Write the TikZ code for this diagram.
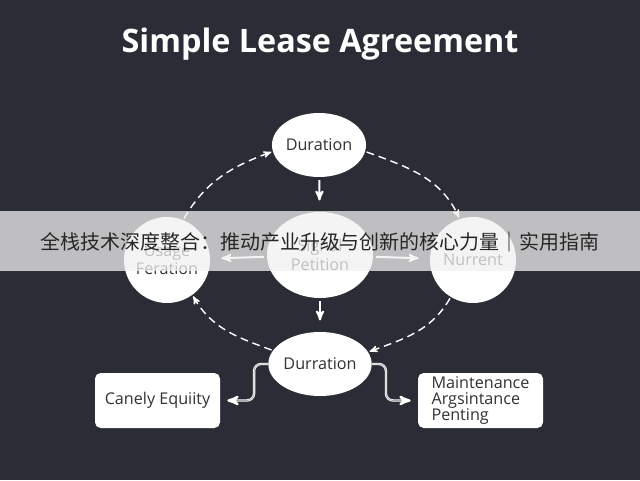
\documentclass[tikz,border=0pt]{standalone}
\usepackage{fontspec}
\setsansfont{Open Sans}
\newfontfamily\cjkfont{Noto Sans CJK SC}
\usepackage{tikz}
\usetikzlibrary{positioning,arrows,shapes.geometric}
\definecolor{bgdark}{RGB}{42,45,53}
\definecolor{inkdark}{RGB}{50,50,52}
\definecolor{bandgray}{RGB}{241,241,241}

\begin{document}
\begin{tikzpicture}[x=0.25mm,y=0.25mm,>=stealth',font=\sffamily,
	ovalnode/.style={ellipse,fill=white,inner sep=0pt,text=inkdark,font=\sffamily\fontsize{11.5}{13}\selectfont,align=center},
	roundnode/.style={circle,fill=white,inner sep=0pt,minimum size=21.5mm,text=inkdark,font=\sffamily\fontsize{11.5}{13}\selectfont,align=center},
	boxnode/.style={rectangle,rounded corners=4pt,fill=white,inner sep=0pt,minimum width=31.25mm,minimum height=13.75mm,text=inkdark,font=\sffamily\fontsize{11.5}{11.5}\selectfont},
	flowarrow/.style={->,draw=white,line width=1.4pt,shorten >=8pt,shorten <=2pt},
	dasharrow/.style={->,draw=white,line width=1pt,dash pattern=on 5.5pt off 3.5pt,shorten >=1pt,shorten <=1pt},
	elbowarrow/.style={->,draw=white,line width=0.6pt,double=gray!70,double distance=0.5pt,rounded corners=5pt,shorten >=5pt}]
	
	\fill[bgdark] (0,0) rectangle (640,480);
	\useasboundingbox (0,0) rectangle (640,480);
	
	\node [text=white,font=\sffamily\bfseries\fontsize{23}{26}\selectfont] (0) at (320,436) {Simple Lease Agreement};
	
	\node [ovalnode,minimum width=21.5mm,minimum height=16mm] (1) at (319,335) {Duration};
	\node [ovalnode,minimum width=26.5mm,minimum height=21.5mm] (2) at (320,225) {Signal\\Petition};
	\node [roundnode] (3) at (167,220) {Usage\\Feration};
	\node [roundnode] (4) at (473,220) {Nurrent};
	\node [ovalnode,minimum width=20.5mm,minimum height=16mm] (5) at (320,116) {Durration};
	\node [boxnode] (6) at (157.5,79.5) {Canely Equiity};
	\node [boxnode,align=left] (7) at (480.5,79.5) {Maintenance\\Argsintance\\Penting};
	
	\draw[flowarrow] (1) to (2);
	\draw[flowarrow] (2) to (3);
	\draw[flowarrow] (2) to (4);
	\draw[flowarrow] (2) to (5);
	
	\draw[dasharrow, out=60, in=200] (3.68) to (1.188);
	\draw[dasharrow, out=-20, in=115] (1.-8) to (4.108);
	\draw[dasharrow, out=160, in=-60] (5.164) to (3.-54);
	\draw[dasharrow, out=-120, in=20] (4.239) to (5.14);
	
	\draw[elbowarrow] (5.west) -- ++(-14,0) |- (6.east);
	\draw[elbowarrow] (5.east) -- ++(14,0) |- (7.west);
	
%	banner laid over the picture
	\fill[bandgray,opacity=0.75] (0,209) rectangle (640,269);
	\node [text=black!85,font=\cjkfont\fontsize{14.2}{16}\selectfont] (8) at (320,238) {全栈技术深度整合：推动产业升级与创新的核心力量｜实用指南};
\end{tikzpicture}
\end{document}
